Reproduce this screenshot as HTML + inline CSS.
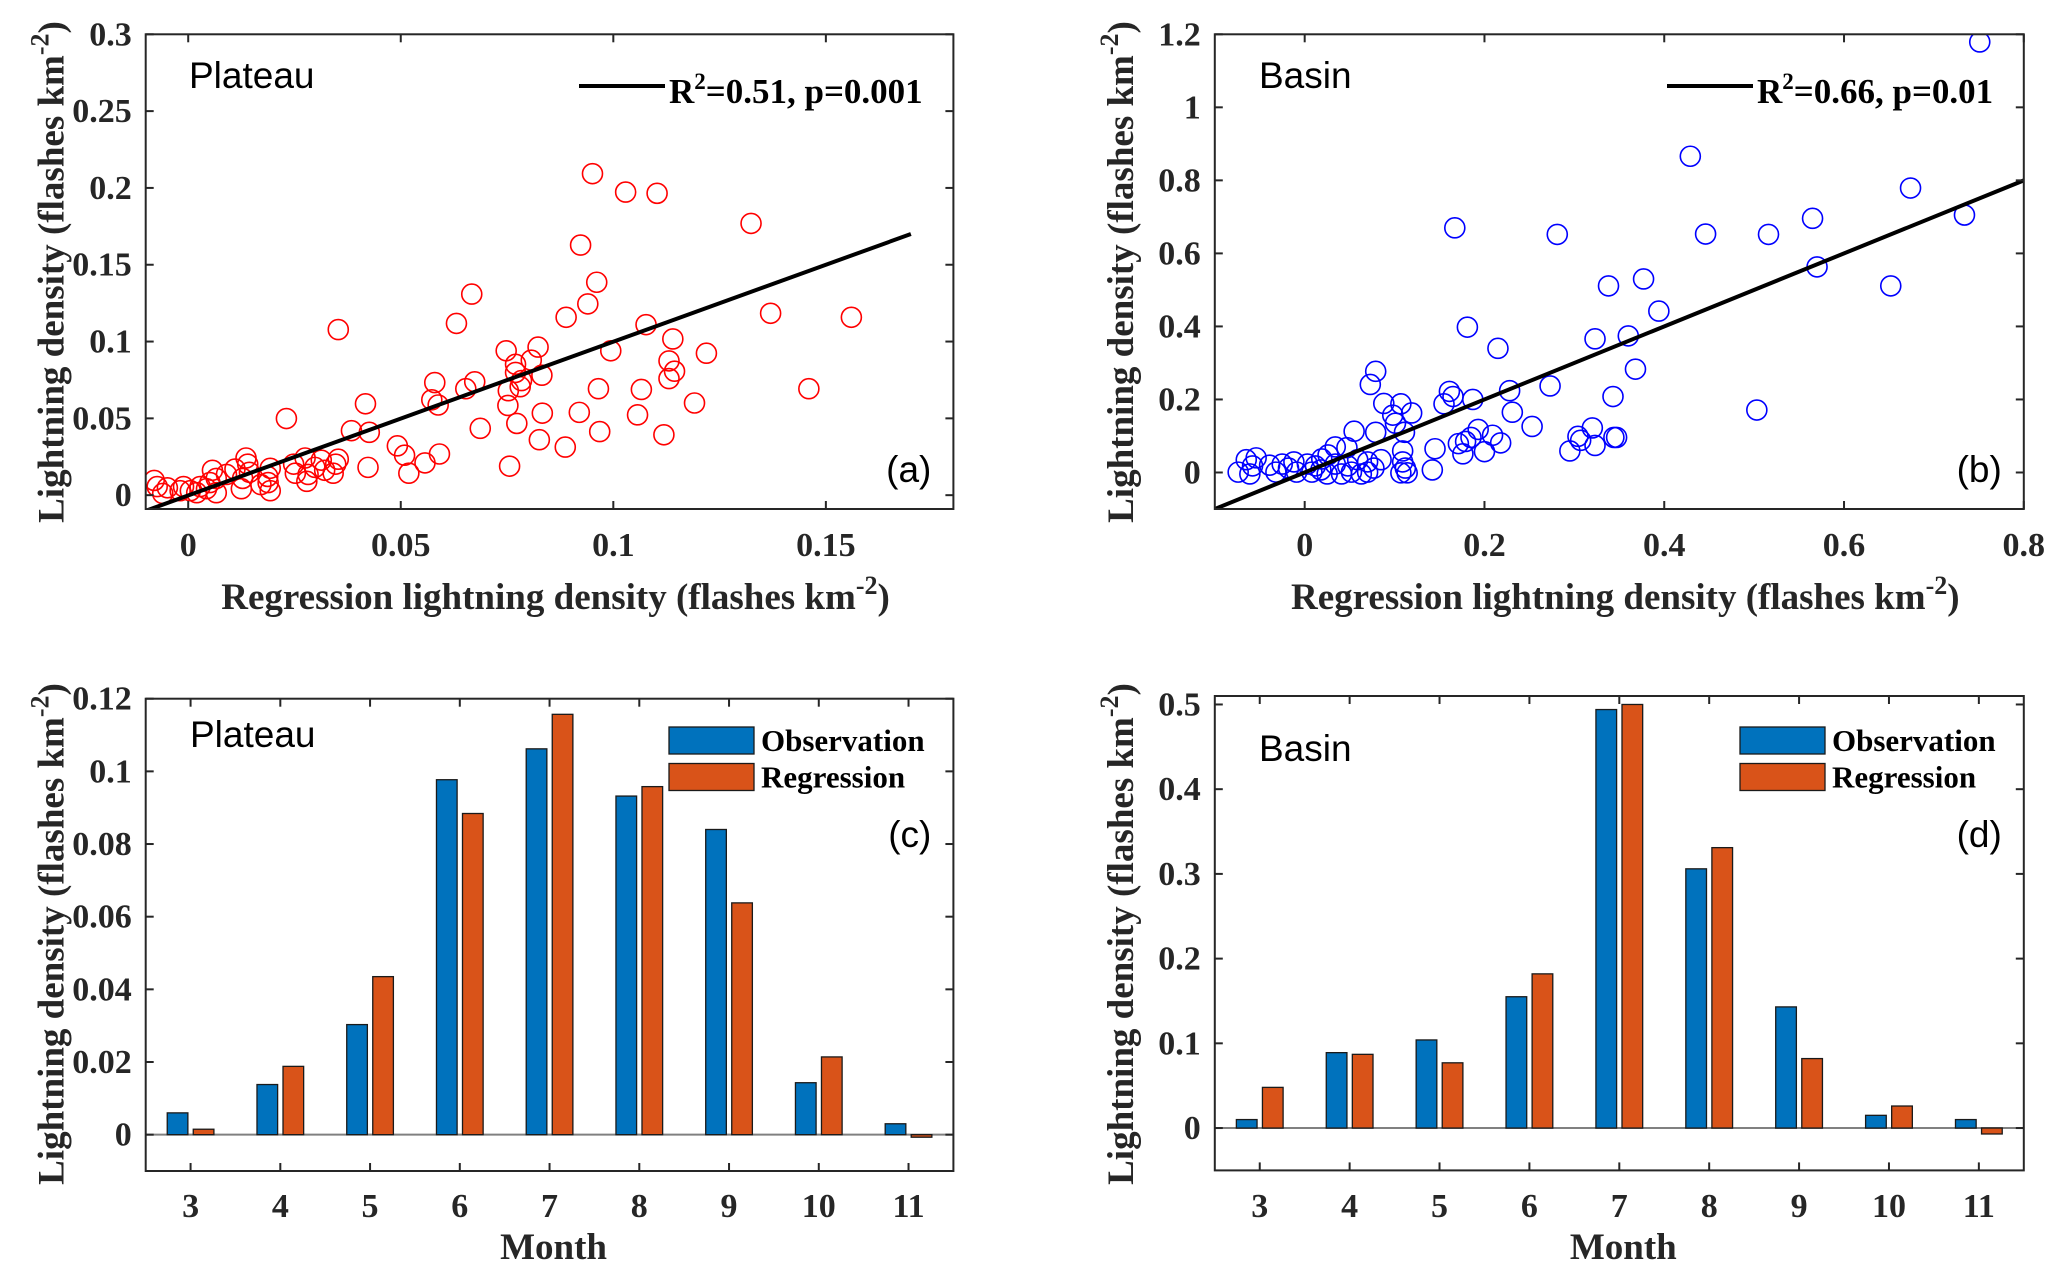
<!DOCTYPE html>
<html><head><meta charset="utf-8"><style>
html,body{margin:0;padding:0;background:#fff;}
svg{display:block;}
.tk{font-family:"Liberation Serif","Times New Roman",serif;font-weight:bold;font-size:34px;fill:#262626;}
.ti{font-family:"Liberation Serif","Times New Roman",serif;font-weight:bold;font-size:37px;fill:#262626;}
.lb{font-family:"Liberation Sans",sans-serif;font-size:37px;fill:#000;}
.lg{font-family:"Liberation Serif","Times New Roman",serif;font-weight:bold;font-size:31px;fill:#000;}
.lr{font-family:"Liberation Serif","Times New Roman",serif;font-weight:bold;font-size:35px;fill:#000;}
</style></head><body>
<svg id="fig" width="2067" height="1278" viewBox="0 0 2067 1278" xmlns="http://www.w3.org/2000/svg">
<defs>
<clipPath id="clipA"><rect x="145.7" y="34.3" width="807.7" height="474.7"/></clipPath>
<clipPath id="clipB"><rect x="1214.8" y="34.3" width="809" height="474.7"/></clipPath>
</defs>
</svg>
<script>
// ---- Panel (a) data: Plateau scatter ----
const plateauX=[0.0951,0.1029,0.1103,0.1324,0.0923,0.0961,0.0940,0.0667,0.0889,0.1370,0.1560,0.0353,0.0631,0.1077,0.1140,0.0994,0.1219,0.0748,0.0823,0.0807,0.1131,0.1144,0.1131,0.0770,0.0770,0.0784,0.0781,0.0753,0.0832,0.0674,0.0653,0.0580,0.0573,0.0588,0.0965,0.1066,0.1460,0.1191,0.0417,0.0752,0.0920,0.0833,0.1057,0.0231,0.0384,0.0426,0.0687,0.0773,0.0968,0.1119,0.0826,0.0887,0.0492,0.0509,0.0591,0.0557,0.0519,0.0756,0.0423,0.0353,0.0347,0.0321,0.0341,0.0313,0.0275,0.0298,0.0282,0.0252,0.0248,0.0279,0.0193,0.0187,0.0188,0.0193,0.0171,0.0136,0.0140,0.0144,0.0128,0.0125,0.0110,0.0090,0.0057,0.0066,0.0051,0.0066,0.0028,0.0020,-0.0011,-0.0019,-0.0049,-0.0060,-0.0080,-0.0073,0.0005,0.0043];
const plateauY=[0.2093,0.1973,0.1965,0.1769,0.1628,0.1386,0.1245,0.1309,0.1158,0.1184,0.1158,0.1078,0.1118,0.1110,0.1017,0.0940,0.0924,0.0940,0.0964,0.0879,0.0874,0.0807,0.0759,0.0852,0.0799,0.0746,0.0706,0.0680,0.0781,0.0738,0.0693,0.0733,0.0621,0.0587,0.0693,0.0688,0.0693,0.0600,0.0595,0.0584,0.0539,0.0534,0.0523,0.0499,0.0420,0.0409,0.0435,0.0467,0.0414,0.0393,0.0361,0.0313,0.0321,0.0260,0.0268,0.0210,0.0143,0.0189,0.0181,0.0234,0.0202,0.0162,0.0143,0.0228,0.0242,0.0181,0.0135,0.0143,0.0202,0.0090,0.0175,0.0122,0.0082,0.0029,0.0069,0.0242,0.0202,0.0149,0.0109,0.0042,0.0170,0.0135,0.0162,0.0109,0.0082,0.0016,0.0056,0.0016,0.0056,0.0029,0.0048,0.0011,0.0096,0.0056,0.0029,0.0042];
const plateauFitX=[-0.01,0.17];
const plateauFitY=[-0.0102,0.170];
const plateauXTicks=[0,0.05,0.1,0.15];
const plateauXTickLabels=["0","0.05","0.1","0.15"];
const plateauYTicks=[0,0.05,0.1,0.15,0.2,0.25,0.3];
const plateauYTickLabels=["0","0.05","0.1","0.15","0.2","0.25","0.3"];
// ---- Panel (b) data: Basin scatter ----
const basinX=[0.751,0.429,0.674,0.734,0.565,0.167,0.281,0.446,0.516,0.570,0.652,0.377,0.338,0.394,0.181,0.323,0.360,0.215,0.368,0.079,0.073,0.273,0.228,0.161,0.165,0.187,0.343,0.155,0.088,0.107,0.119,0.098,0.231,0.101,0.111,0.055,0.079,0.253,0.193,0.209,0.218,0.185,0.179,0.171,0.200,0.176,0.320,0.304,0.307,0.323,0.295,0.344,0.347,0.503,0.145,0.142,0.109,0.109,0.112,0.114,0.107,0.034,0.047,0.026,0.019,0.034,0.048,0.059,0.070,0.077,0.070,0.063,0.052,0.012,0.008,0.003,-0.012,-0.018,-0.009,-0.025,-0.032,-0.039,-0.054,-0.058,-0.061,-0.074,-0.065,0.025,0.018,0.041,0.085];
const basinY=[1.179,0.866,0.779,0.705,0.696,0.670,0.652,0.653,0.652,0.563,0.511,0.530,0.511,0.442,0.398,0.366,0.374,0.340,0.283,0.277,0.241,0.237,0.224,0.222,0.208,0.200,0.208,0.188,0.189,0.188,0.163,0.157,0.165,0.135,0.110,0.113,0.110,0.126,0.118,0.102,0.081,0.096,0.085,0.079,0.057,0.051,0.122,0.099,0.088,0.074,0.059,0.096,0.096,0.171,0.065,0.007,0.059,0.029,0.012,-0.001,-0.001,0.070,0.068,0.048,0.037,0.023,0.018,0.035,0.029,0.012,0.001,-0.004,0.001,0.018,0.001,0.023,0.029,0.012,0.001,0.023,0.001,0.020,0.040,0.018,-0.004,0.001,0.035,-0.004,0.007,-0.004,0.035];
const basinFitX=[-0.1,0.8];
const basinFitY=[-0.1,0.8];
const basinXTicks=[0,0.2,0.4,0.6,0.8];
const basinXTickLabels=["0","0.2","0.4","0.6","0.8"];
const basinYTicks=[0,0.2,0.4,0.6,0.8,1,1.2];
const basinYTickLabels=["0","0.2","0.4","0.6","0.8","1","1.2"];
// ---- Panels (c),(d) data: monthly bars ----
const months=[3,4,5,6,7,8,9,10,11];
const monthLabels=["3","4","5","6","7","8","9","10","11"];
const plateauObs=[0.006,0.0138,0.0303,0.0977,0.1062,0.0932,0.0840,0.0143,0.003];
const plateauReg=[0.0015,0.0188,0.0435,0.0884,0.1157,0.0958,0.0638,0.0214,-0.0007];
const plateauBarYTicks=[0,0.02,0.04,0.06,0.08,0.1,0.12];
const plateauBarYTickLabels=["0","0.02","0.04","0.06","0.08","0.1","0.12"];
const basinObs=[0.010,0.089,0.104,0.155,0.494,0.306,0.143,0.015,0.010];
const basinReg=[0.048,0.087,0.077,0.182,0.500,0.331,0.082,0.026,-0.007];
const basinBarYTicks=[0,0.1,0.2,0.3,0.4,0.5];
const basinBarYTickLabels=["0","0.1","0.2","0.3","0.4","0.5"];

const NS="http://www.w3.org/2000/svg";
const svg=document.getElementById('fig');
function mk(tag,attrs,parent){const e=document.createElementNS(NS,tag);for(const k in attrs)e.setAttribute(k,attrs[k]);(parent||svg).appendChild(e);return e;}
function lin(d0,d1,r0,r1){return v=>r0+(v-d0)/(d1-d0)*(r1-r0);}

function axesBox(p,name){
  const g=mk('g',{});
  
  
  const r=mk('rect',{x:p.l,y:p.t,width:p.r-p.l,height:p.b-p.t,fill:'none',stroke:'#262626','stroke-width':2},g);
  
  
  p.xt.forEach((v,i)=>{
    const x=p.sx(v);
    mk('line',{x1:x,x2:x,y1:p.b,y2:p.b-8,stroke:'#262626','stroke-width':2},g);
    mk('line',{x1:x,x2:x,y1:p.t,y2:p.t+8,stroke:'#262626','stroke-width':2},g);
    const t=mk('text',{x:x,y:p.xly,'text-anchor':'middle',class:'tk'},g);
    t.textContent=p.xl[i];
    
    
  });
  p.yt.forEach((v,i)=>{
    const y=p.sy(v);
    mk('line',{x1:p.l,x2:p.l+8,y1:y,y2:y,stroke:'#262626','stroke-width':2},g);
    mk('line',{x1:p.r,x2:p.r-8,y1:y,y2:y,stroke:'#262626','stroke-width':2},g);
    const t=mk('text',{x:p.l-14,y:y+11,'text-anchor':'end',class:'tk'},g);
    t.textContent=p.yl[i];
    
    
  });
  const yt=mk('text',{transform:`translate(${p.ytx},${p.ytc}) rotate(-90)`,'text-anchor':'middle',class:'ti'},g);
  yt.innerHTML='Lightning density (flashes km<tspan dy="-15" font-size="26">-2</tspan><tspan dy="15">)</tspan>';
  
  
  const xt=mk('text',{x:p.xtc,y:p.xty,'text-anchor':'middle',class:'ti'},g);
  xt.innerHTML=p.xtitle;
  
  
}
const sup='<tspan dy="-15" font-size="26">-2</tspan><tspan dy="15">)</tspan>';

function scatter(cfg){
  const p={l:cfg.l,r:cfg.r,t:34.3,b:509};
  p.sx=lin(cfg.xlim[0],cfg.xlim[1],p.l,p.r);
  p.sy=lin(cfg.ylim[0],cfg.ylim[1],p.b,p.t);
  p.xt=cfg.xt;p.xl=cfg.xl;p.yt=cfg.yt;p.yl=cfg.yl;
  p.xly=556;p.ytx=cfg.l-82;p.ytc=272;p.xtc=(cfg.l+cfg.r)/2+6;p.xty=609;
  p.xtitle='Regression lightning density (flashes km'+sup;
  const g=mk('g',{'clip-path':`url(#${cfg.clip})`});
  
  
  cfg.X.forEach((x,i)=>{
    const c=mk('circle',{cx:p.sx(x),cy:p.sy(cfg.Y[i]),r:10,fill:'none',stroke:cfg.color,'stroke-width':1.6},g);
    
    
  });
  const fl=mk('line',{x1:p.sx(cfg.fx[0]),y1:p.sy(cfg.fy[0]),x2:p.sx(cfg.fx[1]),y2:p.sy(cfg.fy[1]),stroke:'#000','stroke-width':4,'clip-path':`url(#${cfg.clip})`});
  
  
  axesBox(p,cfg.name);
  const lab=mk('text',{x:cfg.labX,y:88,class:'lb'});lab.textContent=cfg.label;
  
  
  const pl=mk('text',{x:cfg.r-22,y:482,'text-anchor':'end',class:'lb'});pl.textContent=cfg.panel;
  
  
  const ll=mk('line',{x1:cfg.legX,x2:cfg.legX+86,y1:86,y2:86,stroke:'#000','stroke-width':4});
  
  
  const lt=mk('text',{x:cfg.legX+90,y:103,class:'lr'});
  lt.innerHTML='R<tspan dy="-14" font-size="23">2</tspan><tspan dy="14">'+cfg.stat+'</tspan>';
  
  
}

function bars(cfg){
  const p={l:cfg.l,r:cfg.r,t:cfg.t,b:cfg.b};
  p.sx=lin(2.5,11.5,p.l,p.r);
  p.sy=lin(cfg.ylim[0],cfg.ylim[1],p.b,p.t);
  p.xt=months;p.xl=monthLabels;p.yt=cfg.yt;p.yl=cfg.yl;
  p.xly=1217;p.ytx=cfg.l-82;p.ytc=934;p.xtc=(cfg.l+cfg.r)/2+4;p.xty=1259;
  p.xtitle='Month';
  const y0=p.sy(0);
  const zl=mk('line',{x1:p.l,x2:p.r,y1:y0,y2:y0,stroke:'#808080','stroke-width':2});
  
  
  const w=0.23, off=0.145;
  [[cfg.obs,-off,'#0072BD','observation'],[cfg.reg,off,'#D95319','regression']].forEach(s=>{
    const g=mk('g',{});
    
    
    s[0].forEach((v,i)=>{
      const x0=p.sx(months[i]+s[1]-w/2),x1=p.sx(months[i]+s[1]+w/2);
      const ya=p.sy(v);
      const r=mk('rect',{x:x0,y:Math.min(ya,y0),width:x1-x0,height:Math.max(1,Math.abs(ya-y0)),fill:s[2],stroke:'#1a1a1a','stroke-width':1.3},g);
      
      
    });
  });
  axesBox(p,cfg.name);
  const lab=mk('text',{x:cfg.labX,y:cfg.labY,class:'lb'});lab.textContent=cfg.label;
  
  
  const pl=mk('text',{x:cfg.r-22,y:847,'text-anchor':'end',class:'lb'});pl.textContent=cfg.panel;
  
  
  [['Observation','#0072BD',727],['Regression','#D95319',763.5]].forEach(e=>{
    const r=mk('rect',{x:cfg.legX,y:e[2],width:85,height:27,fill:e[1],stroke:'#1a1a1a','stroke-width':1.3});
    
    
    const t=mk('text',{x:cfg.legX+92,y:e[2]+24,class:'lg'});t.textContent=e[0];
    
    
  });
}

scatter({name:'plateau-scatter',l:145.7,r:953.4,xlim:[-0.01,0.18],ylim:[-0.009,0.3],X:plateauX,Y:plateauY,fx:plateauFitX,fy:plateauFitY,color:'#ff0000',clip:'clipA',xt:plateauXTicks,xl:plateauXTickLabels,yt:plateauYTicks,yl:plateauYTickLabels,label:'Plateau',labX:189,panel:'(a)',legX:579,stat:'=0.51, p=0.001'});
scatter({name:'basin-scatter',l:1214.8,r:2023.8,xlim:[-0.1,0.8],ylim:[-0.1,1.2],X:basinX,Y:basinY,fx:basinFitX,fy:basinFitY,color:'#0000ff',clip:'clipB',xt:basinXTicks,xl:basinXTickLabels,yt:basinYTicks,yl:basinYTickLabels,label:'Basin',labX:1259,panel:'(b)',legX:1667,stat:'=0.66, p=0.01'});
bars({name:'plateau-bars',l:145.7,r:953.4,t:698.7,b:1171,ylim:[-0.01,0.12],obs:plateauObs,reg:plateauReg,yt:plateauBarYTicks,yl:plateauBarYTickLabels,label:'Plateau',labX:190,labY:747,panel:'(c)',legX:669});
bars({name:'basin-bars',l:1214.8,r:2023.8,t:696,b:1170.4,ylim:[-0.05,0.51],obs:basinObs,reg:basinReg,yt:basinBarYTicks,yl:basinBarYTickLabels,label:'Basin',labX:1259,labY:761,panel:'(d)',legX:1740});
</script>
</body></html>
